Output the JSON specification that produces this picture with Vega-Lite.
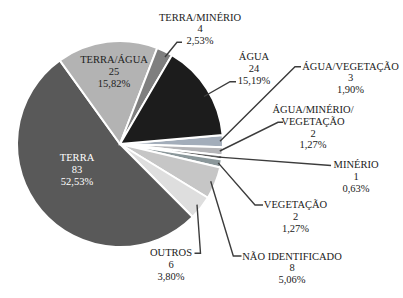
{
  "$schema": "https://vega.github.io/schema/vega-lite/v6.json",
  "width": 403,
  "height": 298,
  "padding": 0,
  "autosize": {"type": "fit", "contains": "padding"},
  "background": "white",
  "config": {"view": {"stroke": null}},
  "datasets": {
    "slices": [
      {"idx": 1, "category": "ÁGUA/VEGETAÇÃO", "value": 3, "label": "ÁGUA/VEGETAÇÃO\n3\n1,90%", "lx": 230.5, "ly": 77.3},
      {"idx": 2, "category": "ÁGUA/MINÉRIO/VEGETAÇÃO", "value": 2, "label": "ÁGUA/MINÉRIO/\nVEGETAÇÃO\n2\n1,27%", "lx": 193, "ly": 34},
      {"idx": 3, "category": "MINÉRIO", "value": 1, "label": "MINÉRIO\n1\n0,63%", "lx": 236, "ly": -21},
      {"idx": 4, "category": "VEGETAÇÃO", "value": 2, "label": "VEGETAÇÃO\n2\n1,27%", "lx": 175.5, "ly": -61},
      {"idx": 5, "category": "NÃO IDENTIFICADO", "value": 8, "label": "NÃO IDENTIFICADO\n8\n5,06%", "lx": 172, "ly": -112.7},
      {"idx": 6, "category": "OUTROS", "value": 6, "label": "OUTROS\n6\n3,80%", "lx": 51, "ly": -109.3},
      {"idx": 7, "category": "TERRA", "value": 83, "label": "TERRA\n83\n52,53%", "lx": -43, "ly": -14.3},
      {"idx": 8, "category": "TERRA/ÁGUA", "value": 25, "label": "TERRA/ÁGUA\n25\n15,82%", "lx": -6, "ly": 84},
      {"idx": 9, "category": "TERRA/MINÉRIO", "value": 4, "label": "TERRA/MINÉRIO\n4\n2,53%", "lx": 80, "ly": 126.5},
      {"idx": 10, "category": "ÁGUA", "value": 24, "label": "ÁGUA\n24\n15,19%", "lx": 134, "ly": 86.7}
    ],
    "leaders": [
      {"category": "TERRA/MINÉRIO", "ord": 1, "x": 45, "y": 87},
      {"category": "TERRA/MINÉRIO", "ord": 2, "x": 57, "y": 101.7},
      {"category": "TERRA/MINÉRIO", "ord": 3, "x": 62, "y": 101.7},
      {"category": "ÁGUA", "ord": 1, "x": 84, "y": 47.5},
      {"category": "ÁGUA", "ord": 2, "x": 110, "y": 62.3},
      {"category": "ÁGUA", "ord": 3, "x": 116, "y": 62.3},
      {"category": "ÁGUA/VEGETAÇÃO", "ord": 1, "x": 100, "y": 2.8},
      {"category": "ÁGUA/VEGETAÇÃO", "ord": 2, "x": 175, "y": 77.3},
      {"category": "ÁGUA/VEGETAÇÃO", "ord": 3, "x": 181, "y": 77.3},
      {"category": "ÁGUA/MINÉRIO/VEGETAÇÃO", "ord": 1, "x": 99.8, "y": -7},
      {"category": "ÁGUA/MINÉRIO/VEGETAÇÃO", "ord": 2, "x": 158, "y": 21.7},
      {"category": "ÁGUA/MINÉRIO/VEGETAÇÃO", "ord": 3, "x": 163, "y": 21.7},
      {"category": "MINÉRIO", "ord": 1, "x": 99.1, "y": -13.1},
      {"category": "MINÉRIO", "ord": 2, "x": 211, "y": -21.5},
      {"category": "VEGETAÇÃO", "ord": 1, "x": 98.2, "y": -18.9},
      {"category": "VEGETAÇÃO", "ord": 2, "x": 135, "y": -61},
      {"category": "VEGETAÇÃO", "ord": 3, "x": 143, "y": -61},
      {"category": "NÃO IDENTIFICADO", "ord": 1, "x": 90.7, "y": -37.2},
      {"category": "NÃO IDENTIFICADO", "ord": 2, "x": 113.3, "y": -112},
      {"category": "NÃO IDENTIFICADO", "ord": 3, "x": 121.5, "y": -112},
      {"category": "OUTROS", "ord": 1, "x": 77, "y": -60.6},
      {"category": "OUTROS", "ord": 2, "x": 80.5, "y": -109.3},
      {"category": "OUTROS", "ord": 3, "x": 74.5, "y": -109.3}
    ]
  },
  "layer": [
    {
      "data": {"name": "slices"},
      "mark": {"type": "arc", "radius": 103, "stroke": "white", "strokeWidth": 2},
      "encoding": {
        "x": {"datum": 0, "type": "quantitative", "scale": {"domain": [-120, 283], "nice": false, "zero": false}, "axis": null},
        "y": {"datum": 0, "type": "quantitative", "scale": {"domain": [-154, 144], "nice": false, "zero": false}, "axis": null},
        "theta": {"field": "value", "type": "quantitative", "stack": true, "scale": {"range": [1.4835, 7.7667]}},
        "order": {"field": "idx", "type": "quantitative"},
        "color": {
          "field": "category",
          "type": "nominal",
          "legend": null,
          "scale": {
            "domain": ["ÁGUA/VEGETAÇÃO", "ÁGUA/MINÉRIO/VEGETAÇÃO", "MINÉRIO", "VEGETAÇÃO", "NÃO IDENTIFICADO", "OUTROS", "TERRA", "TERRA/ÁGUA", "TERRA/MINÉRIO", "ÁGUA"],
            "range": ["#a3adba", "#b5b5b8", "#5c5c5c", "#8b979a", "#c6c6c6", "#dedede", "#595959", "#b3b3b3", "#7f7f7f", "#1c1c1c"]
          }
        }
      }
    },
    {
      "data": {"name": "leaders"},
      "mark": {"type": "line", "color": "#3c3c3c", "strokeWidth": 1.4},
      "encoding": {
        "x": {"field": "x", "type": "quantitative"},
        "y": {"field": "y", "type": "quantitative"},
        "detail": {"field": "category", "type": "nominal"},
        "order": {"field": "ord", "type": "quantitative"}
      }
    },
    {
      "data": {"name": "slices"},
      "mark": {"type": "text", "font": "Liberation Serif", "fontSize": 10.5, "lineHeight": 11.8, "lineBreak": "\n", "align": "center", "baseline": "middle"},
      "encoding": {
        "x": {"field": "lx", "type": "quantitative"},
        "y": {"field": "ly", "type": "quantitative"},
        "text": {"field": "label", "type": "nominal"},
        "color": {"condition": {"test": "datum.category === 'TERRA'", "value": "white"}, "value": "#222222"}
      }
    }
  ]
}
